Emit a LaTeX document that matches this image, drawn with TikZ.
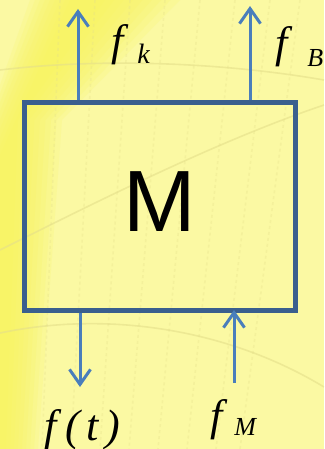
\documentclass[tikz,border=0pt]{standalone}
\usepackage{fontspec}
\setmainfont{Liberation Serif}
\newfontfamily\sansM{Liberation Sans}
\usetikzlibrary{arrows.meta}
\definecolor{bgpale}{HTML}{FBF9A3}
\definecolor{bgbright}{HTML}{F8F45A}
\definecolor{gridc}{HTML}{E4DF8A}
\definecolor{boxblue}{HTML}{3A5F8E}
\definecolor{arrblue}{HTML}{4A7EBB}
\begin{document}
\begin{tikzpicture}[x=1pt,y=-1pt,
  sysbox/.style={draw=boxblue,line width=5pt,minimum width=270.5pt,minimum height=207.5pt,inner sep=0pt,font=\sansM\fontsize{87}{87}\selectfont,text depth=10pt},
  flow/.style={draw=arrblue,line width=3pt,-{Straight Barb[length=15pt,width=21pt]}},
  lab/.style={inner sep=0pt,anchor=base west,font=\itshape\fontsize{44}{44}\selectfont},
  grid line/.style={draw=gridc,line width=1.6pt,opacity=0.6},
  glow/.style={fill=bgbright,opacity=0.16},
  ]
\useasboundingbox (0,0) rectangle (324,449);
% background
\fill[bgpale] (0,0) rectangle (324,449);
\begin{scope}
  \clip (0,0) rectangle (324,449);
  \foreach \t in {0,0.125,...,1.0}{
    \fill[glow] ({30+40*\t},0) -- ({180-75*\t},0) -- ({62-44*\t},120) -- ({38-32*\t},449)
      -- (0,449) -- (0,{85+70*\t}) -- cycle;
  }
  % faint background grid
  \draw[grid line] (0,70) .. controls (100,58) and (220,62) .. (324,80);
  \draw[grid line] (0,250) .. controls (100,200) and (220,140) .. (324,105);
  \draw[grid line] (0,333) .. controls (110,310) and (230,330) .. (324,387);
  \foreach \x/\dx in {60/-6,95/-8,130/-10,165/-12,200/-14,235/-16,270/-18,300/-20}{
    \draw[grid line,opacity=0.3,dashed] (\x,0) .. controls (\x+\dx,150) and (\x+2*\dx,300) .. (\x+3*\dx,449);
  }
\end{scope}
% system block
\node[sysbox] (box) at (159.75,206.25) {M};
% flows
\coordinate (tk) at (78,9);
\coordinate (tB) at (250,6);
\coordinate (bt) at (80,387);
\coordinate (bM) at (234,383);
\draw[flow] (tk |- box.north) -- (tk);
\draw[flow] (tB |- box.north) -- (tB);
\draw[flow] (bt |- box.south) -- (bt);
\draw[flow,shorten >=-2.5pt] (bM) -- (bM |- box.south);
% labels
\node[lab] (lk) at (111,56) {f\hspace{14pt}\raisebox{-8pt}{\fontsize{28}{28}\selectfont k}};
\node[lab] (lB) at (275,58) {f\hspace{20pt}\raisebox{-9pt}{\fontsize{26}{26}\selectfont B}};
\node[lab] (lt) at (44,440) {f\hspace{9pt}(\hspace{6pt}t\hspace{7pt})};
\node[lab] (lM) at (210,430) {f\hspace{12pt}\raisebox{-5pt}{\fontsize{26}{26}\selectfont M}};
\end{tikzpicture}
\end{document}
